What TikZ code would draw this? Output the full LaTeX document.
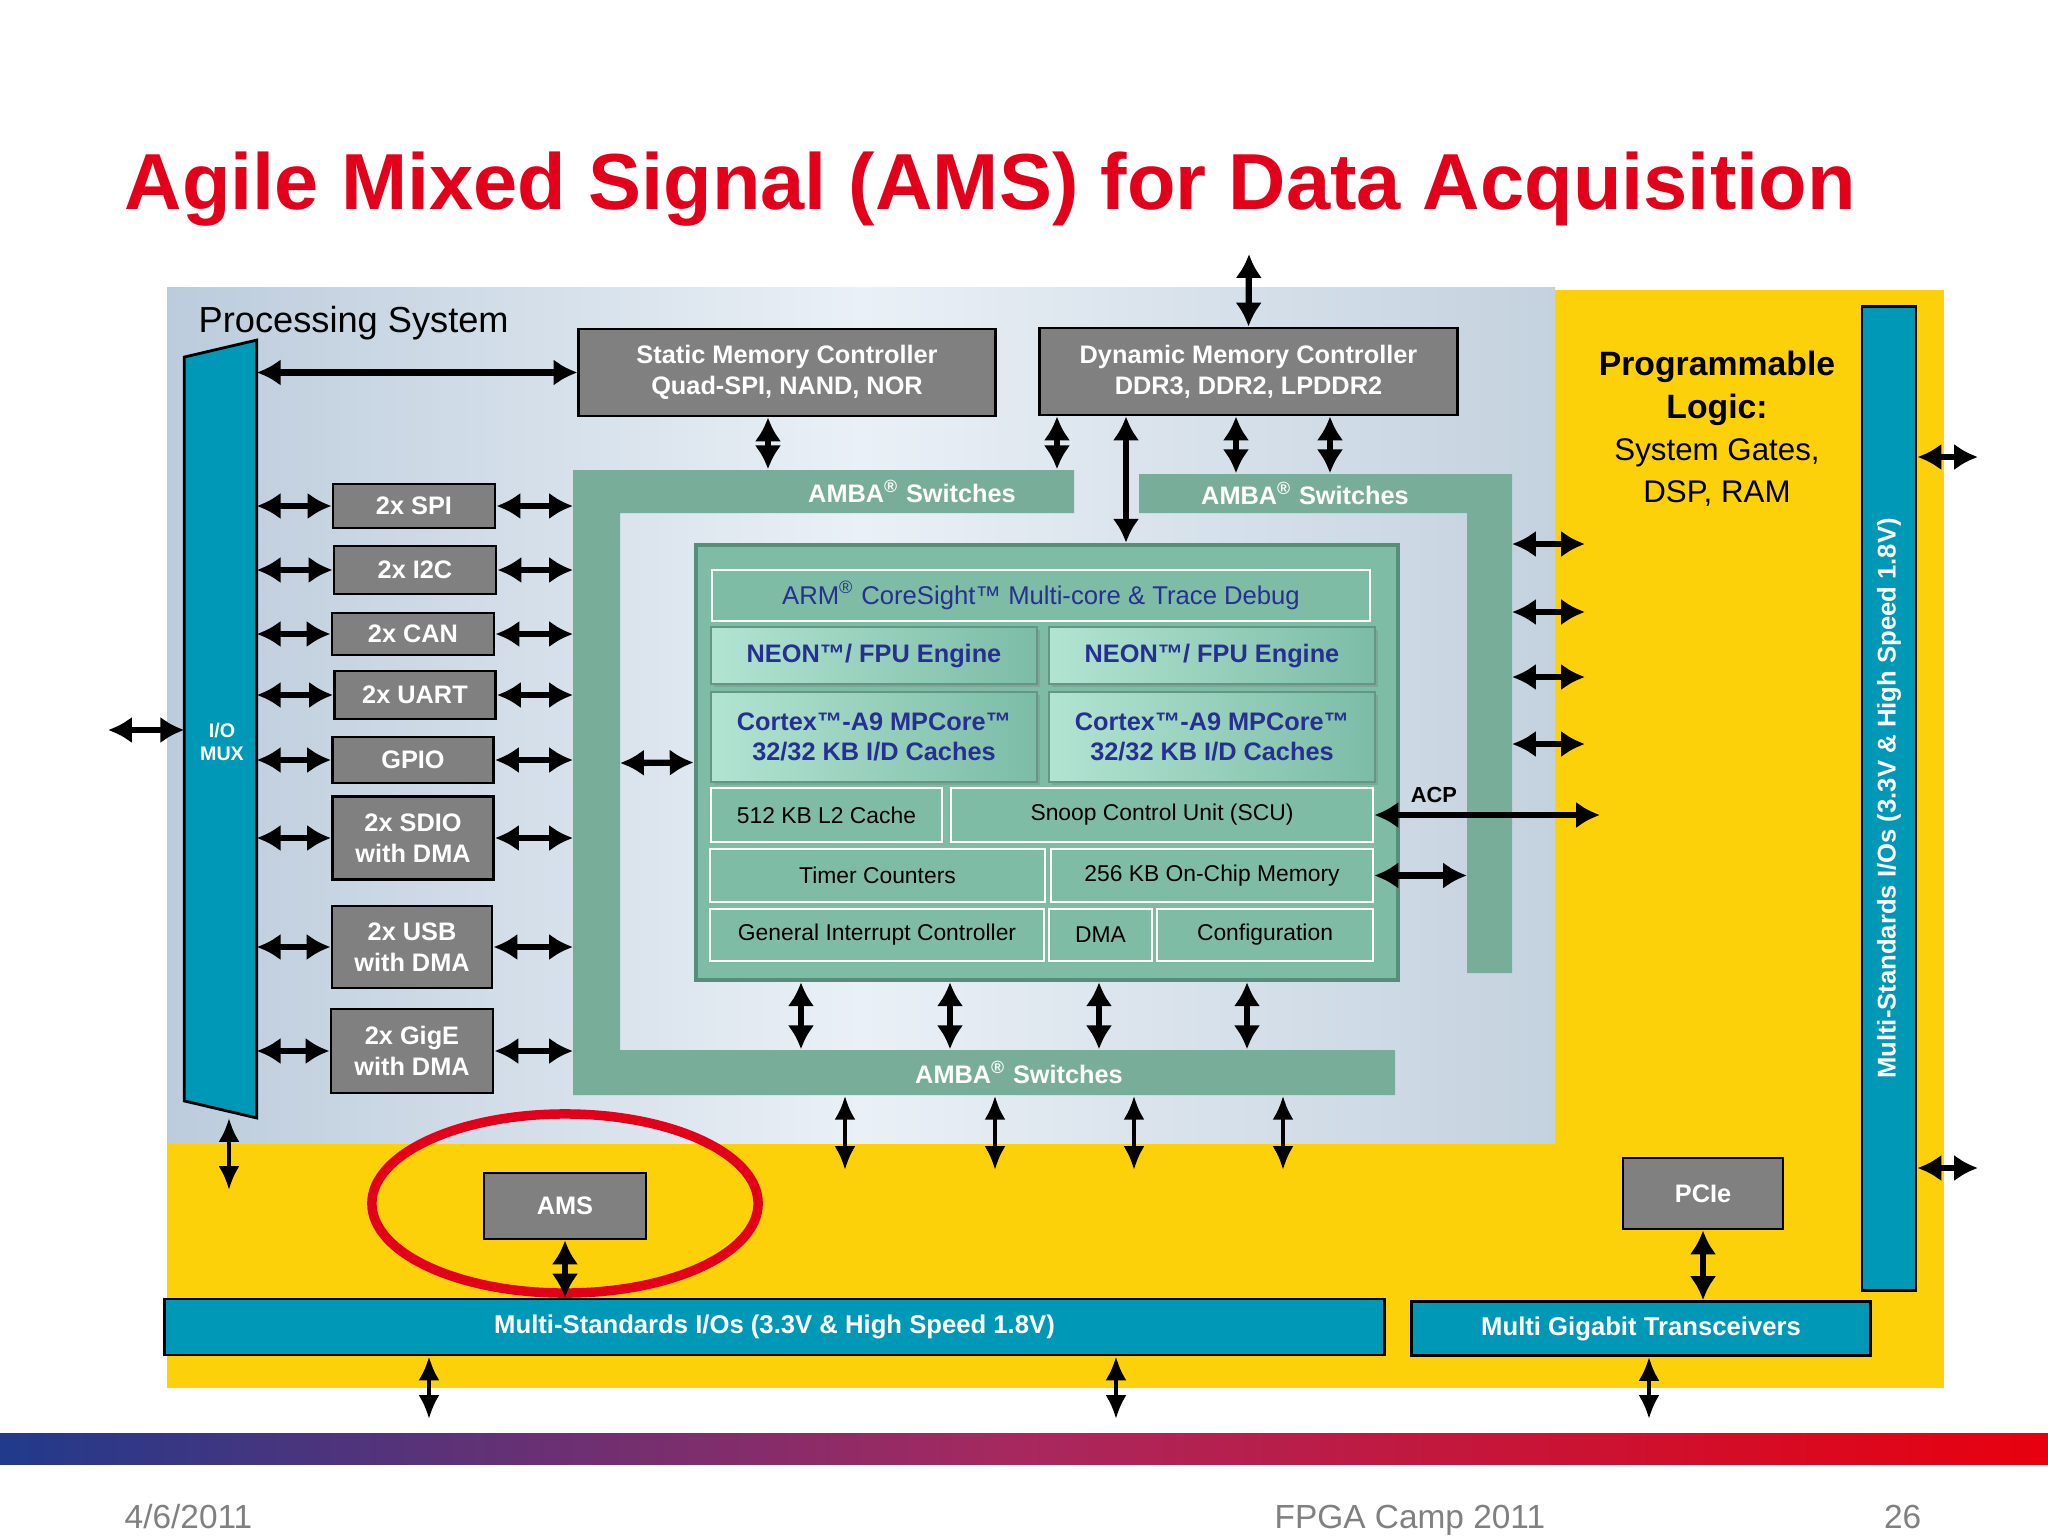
\documentclass[tikz,border=0pt]{standalone}
\usepackage{fontspec}
\setmainfont{Liberation Sans}
\usepackage{tikz}
\usetikzlibrary{calc,positioning,arrows.meta,shadows}
\definecolor{plyellow}{RGB}{253,209,10}
\definecolor{psleft}{RGB}{188,204,220}
\definecolor{psmid}{RGB}{234,240,246}
\definecolor{psright}{RGB}{196,210,223}
\definecolor{iobar}{RGB}{0,152,183}
\definecolor{ambagreen}{RGB}{120,174,153}
\definecolor{coregreen}{RGB}{126,188,166}
\definecolor{coreedge}{RGB}{86,142,122}
\definecolor{enginelight}{RGB}{178,228,210}
\definecolor{enginedark}{RGB}{124,188,166}
\definecolor{boxgray}{RGB}{128,128,128}
\definecolor{armblue}{RGB}{38,48,145}
\definecolor{xred}{RGB}{226,0,26}
\definecolor{footgray}{RGB}{128,128,128}
\definecolor{barblue}{RGB}{33,58,139}
\definecolor{barmid}{RGB}{168,40,94}
\definecolor{barred}{RGB}{232,0,14}
\tikzstyle{slidetitle} = [text=xred, font=\bfseries\fontsize{22.6}{26}\selectfont, inner sep=0pt]
\tikzstyle{footer} = [text=footgray, font=\fontsize{9.5}{11}\selectfont, inner sep=0pt]
\tikzstyle{gbox} = [rectangle, draw=black, line width=0.8pt, fill=boxgray, text=white, font=\bfseries\fontsize{7.2}{8.8}\selectfont, align=center, inner sep=0pt]
\tikzstyle{iobox} = [rectangle, draw=black, line width=0.8pt, fill=iobar, text=white, font=\bfseries\fontsize{7.3}{8.8}\selectfont, inner sep=0pt]
\tikzstyle{corebox} = [rectangle, draw=coreedge, line width=1.2pt, fill=coregreen, inner sep=0pt]
\tikzstyle{cell} = [rectangle, draw=white, line width=0.7pt, text=black, font=\fontsize{6.5}{8}\selectfont, inner sep=0pt]
\tikzstyle{engine} = [rectangle, draw=enginedark!80!black, line width=0.5pt, left color=enginelight, right color=enginedark, drop shadow={shadow xshift=0.8pt, shadow yshift=-0.8pt, opacity=0.35}, text=armblue, font=\bfseries\fontsize{7.2}{8.6}\selectfont, align=center, inner sep=0pt]
\tikzstyle{ambalabel} = [text=white, font=\bfseries\fontsize{7.2}{8.8}\selectfont, inner sep=0pt]
\tikzstyle{line} = [draw, line width=1.8pt, {Latex[length=6.8pt,width=7.6pt]}-{Latex[length=6.8pt,width=7.6pt]}]
\tikzstyle{thinline} = [draw, line width=1.2pt, {Latex[length=6.8pt,width=6pt]}-{Latex[length=6.8pt,width=6pt]}]
\begin{document}
\begin{tikzpicture}[x=0.01cm, y=-0.01cm]
    \useasboundingbox (0,0) rectangle (2048,1536);
    \fill[white] (0,0) rectangle (2048,1536);
    % Regions
    \fill[plyellow] (167,290) rectangle (1944,1388);
    \shade[left color=psleft, right color=psright, middle color=psmid] (167,287) rectangle (1555,1143);
    \fill[ambagreen] (573,470) -- (1074,470) -- (1074,513) -- (620,513) -- (620,1050) -- (1395,1050) -- (1395,1095) -- (573,1095) -- cycle;
    \fill[ambagreen] (1139,474) -- (1512,474) -- (1512,973) -- (1467,973) -- (1467,513) -- (1139,513) -- cycle;
    \shade[left color=barblue, right color=barred, middle color=barmid] (0,1433) rectangle (2048,1464);

    % Texts
    \node [slidetitle, anchor=base west] (title) at (124,209) {Agile Mixed Signal (AMS) for Data Acquisition};
    \node [text=black, font=\fontsize{10.3}{12}\selectfont, inner sep=0pt, anchor=west] (ps) at (198,323) {Processing System};
    \node [align=center, inner sep=0pt] (pl) at (1717,429)
    {
      {\bfseries\fontsize{9.6}{11}\selectfont Programmable}\\
      {\bfseries\fontsize{9.6}{11}\selectfont Logic:}\\
      {\fontsize{8.9}{11}\selectfont System Gates,}\\
      {\fontsize{8.9}{11}\selectfont DSP, RAM}
    };
    \node [footer, anchor=base west] (date) at (124,1528) {4/6/2011};
    \node [footer, anchor=base west] (event) at (1274,1528) {FPGA Camp 2011};
    \node [footer, anchor=base east] (page) at (1922,1528) {26};

    % I/O MUX
    \node [minimum width=0.71cm, minimum height=7.76cm, inner sep=0pt] (mux) at (220.5,729) {};
    \filldraw [fill=iobar, draw=black, line width=0.8pt] ($(mux.north west)+(0,17)$) -- (mux.north east) -- (mux.south east) -- ($(mux.south west)+(0,-17)$) -- cycle;
    \node [text=white, font=\bfseries\fontsize{5.6}{6.6}\selectfont, align=center, inner sep=0pt] (muxtext) at (222,742) {I/O\\MUX};

    % Blocks
    \node [gbox, minimum width=4.16cm, minimum height=0.87cm] (smc) at (787,372.5) {Static Memory Controller\\Quad-SPI, NAND, NOR};
    \node [gbox, minimum width=4.17cm, minimum height=0.87cm] (dmc) at (1248.5,371.5) {Dynamic Memory Controller\\DDR3, DDR2, LPDDR2};
    \node [gbox, minimum width=1.62cm, minimum height=0.44cm] (spi) at (414,506) {2x SPI};
    \node [gbox, minimum width=1.62cm, minimum height=0.48cm] (i2c) at (415,570) {2x I2C};
    \node [gbox, minimum width=1.62cm, minimum height=0.42cm] (can) at (413,634) {2x CAN};
    \node [gbox, minimum width=1.61cm, minimum height=0.48cm] (uart) at (415,695) {2x UART};
    \node [gbox, minimum width=1.61cm, minimum height=0.46cm] (gpio) at (413,760) {GPIO};
    \node [gbox, minimum width=1.61cm, minimum height=0.83cm] (sdio) at (413,838) {2x SDIO\\with DMA};
    \node [gbox, minimum width=1.60cm, minimum height=0.82cm] (usb) at (412,947) {2x USB\\with DMA};
    \node [gbox, minimum width=1.62cm, minimum height=0.84cm] (gige) at (412,1051) {2x GigE\\with DMA};
    \node [gbox, minimum width=1.62cm, minimum height=0.66cm] (ams) at (565,1206) {AMS};
    \node [gbox, minimum width=1.60cm, minimum height=0.71cm] (pcie) at (1703,1193.5) {PCIe};

    % AMBA switches
    \node [ambalabel, minimum height=0.43cm] (ambaa) at (912,491.5) {AMBA\textsuperscript{®} Switches};
    \node [ambalabel, minimum height=0.39cm] (ambab) at (1305,493.5) {AMBA\textsuperscript{®} Switches};
    \node [ambalabel, minimum height=0.45cm] (ambac) at (1019,1072.5) {AMBA\textsuperscript{®} Switches};

    % Cortex-A9 cluster
    \node [corebox, minimum width=7.02cm, minimum height=4.35cm] (core) at (1047,762.5) {};
    \node [cell, minimum width=6.58cm, minimum height=0.51cm, text=armblue, font=\fontsize{7.3}{8.8}\selectfont] (debug) at (1041,595.5) {ARM\textsuperscript{®} CoreSight™ Multi-core \& Trace Debug};
    \node [engine, minimum width=3.26cm, minimum height=0.57cm] (neona) at (874,655.5) {NEON™/ FPU Engine};
    \node [engine, minimum width=3.26cm, minimum height=0.57cm] (neonb) at (1212,655.5) {NEON™/ FPU Engine};
    \node [engine, minimum width=3.26cm, minimum height=0.90cm] (cpua) at (874,737) {Cortex™-A9 MPCore™\\32/32 KB I/D Caches};
    \node [engine, minimum width=3.26cm, minimum height=0.90cm] (cpub) at (1212,737) {Cortex™-A9 MPCore™\\32/32 KB I/D Caches};
    \node [cell, minimum width=2.31cm, minimum height=0.54cm] (l2) at (826.5,815) {512 KB L2 Cache};
    \node [cell, minimum width=4.22cm, minimum height=0.54cm] (scu) at (1162,815) {Snoop Control Unit (SCU)};
    \node [cell, minimum width=3.35cm, minimum height=0.53cm] (timer) at (877.5,875.5) {Timer Counters};
    \node [cell, minimum width=3.22cm, minimum height=0.53cm] (ocm) at (1212,875.5) {256 KB On-Chip Memory};
    \node [cell, minimum width=3.34cm, minimum height=0.52cm] (gic) at (877,935) {General Interrupt Controller};
    \node [cell, minimum width=1.03cm, minimum height=0.52cm] (dma) at (1100.5,935) {DMA};
    \node [cell, minimum width=2.16cm, minimum height=0.52cm] (cfg) at (1265,935) {Configuration};

    % Multi-standard I/O
    \node [iobox, minimum width=12.19cm, minimum height=0.56cm] (iobot) at (774.5,1327) {Multi-Standards I/Os (3.3V \& High Speed 1.8V)};
    \node [iobox, minimum width=4.58cm, minimum height=0.54cm] (mgt) at (1641,1328.5) {Multi Gigabit Transceivers};
    \node [iobox, rotate=90, minimum width=9.83cm, minimum height=0.54cm] (ioright) at (1889,798.5) {Multi-Standards I/Os (3.3V \& High Speed 1.8V)};

    % Highlight
    \draw [xred, line width=2.7pt] (565,1203.5) ellipse [x radius=1.93cm, y radius=0.895cm];

    % Anchors
    \coordinate (ambaleft) at (573,0);
    \coordinate (ambainner) at (620,763);
    \coordinate (ambarin) at (1467,0);
    \coordinate (ambarout) at (1512,0);
    \coordinate (ioin) at (108,730);
    \coordinate (muxdown) at (229,1190);
    \coordinate (smcdown) at (768,0);
    \coordinate (dmca) at (1057,0);
    \coordinate (dmcb) at (1126,0);
    \coordinate (dmcc) at (1236,0);
    \coordinate (dmcd) at (1330,0);
    \coordinate (dmcup) at (1249,254);
    \coordinate (acpend) at (1600,815);
    \coordinate (plpa) at (1585,544);
    \coordinate (plpb) at (1585,612);
    \coordinate (plpc) at (1585,677);
    \coordinate (plpd) at (1585,744);
    \coordinate (corea) at (801,0);
    \coordinate (coreb) at (950,0);
    \coordinate (corec) at (1099,0);
    \coordinate (cored) at (1247,0);
    \coordinate (busa) at (845,1170);
    \coordinate (busb) at (995,1170);
    \coordinate (busc) at (1134,1170);
    \coordinate (busd) at (1283,1170);
    \coordinate (pinsa) at (429,1419);
    \coordinate (pinsb) at (1116,1419);
    \coordinate (pinsc) at (1649,1419);
    \coordinate (plouta) at (1978,457);
    \coordinate (ploutb) at (1978,1168);

    % Lines
    \path [line] (ioin) -- (ioin -| mux.west);
    \path [line] (mux.east |- smc.west) -- (smc.west);
    \path [line] (mux.east |- spi) -- (spi.west);
    \path [line] (mux.east |- i2c) -- (i2c.west);
    \path [line] (mux.east |- can) -- (can.west);
    \path [line] (mux.east |- uart) -- (uart.west);
    \path [line] (mux.east |- gpio) -- (gpio.west);
    \path [line] (mux.east |- sdio) -- (sdio.west);
    \path [line] (mux.east |- usb) -- (usb.west);
    \path [line] (mux.east |- gige) -- (gige.west);
    \path [line] (spi.east) -- (spi.east -| ambaleft);
    \path [line] (i2c.east) -- (i2c.east -| ambaleft);
    \path [line] (can.east) -- (can.east -| ambaleft);
    \path [line] (uart.east) -- (uart.east -| ambaleft);
    \path [line] (gpio.east) -- (gpio.east -| ambaleft);
    \path [line] (sdio.east) -- (sdio.east -| ambaleft);
    \path [line] (usb.east) -- (usb.east -| ambaleft);
    \path [line] (gige.east) -- (gige.east -| ambaleft);
    \path [thinline] (muxdown |- mux.south) -- (muxdown);
    \path [line] (smc.south -| smcdown) -- (ambaa.north -| smcdown);
    \path [line] (dmcup) -- (dmc.north);
    \path [line] (dmc.south -| dmca) -- (ambaa.north -| dmca);
    \path [line] (dmc.south -| dmcb) -- (core.north -| dmcb);
    \path [line] (dmc.south -| dmcc) -- (ambab.north -| dmcc);
    \path [line] (dmc.south -| dmcd) -- (ambab.north -| dmcd);
    \path [line] (ambainner) -- (core.west);
    \path [line] (scu.east) -- (acpend);
    \path [line] (ocm.east) -- (ocm.east -| ambarin);
    \path [line] (plpa -| ambarout) -- (plpa);
    \path [line] (plpb -| ambarout) -- (plpb);
    \path [line] (plpc -| ambarout) -- (plpc);
    \path [line] (plpd -| ambarout) -- (plpd);
    \path [line] (core.south -| corea) -- (ambac.north -| corea);
    \path [line] (core.south -| coreb) -- (ambac.north -| coreb);
    \path [line] (core.south -| corec) -- (ambac.north -| corec);
    \path [line] (core.south -| cored) -- (ambac.north -| cored);
    \path [thinline] (ambac.south -| busa) -- (busa);
    \path [thinline] (ambac.south -| busb) -- (busb);
    \path [thinline] (ambac.south -| busc) -- (busc);
    \path [thinline] (ambac.south -| busd) -- (busd);
    \path [line] (ams.south) -- (ams.south |- iobot.north);
    \path [line] (pcie.south) -- (pcie.south |- mgt.north);
    \path [thinline] (iobot.south -| pinsa) -- (pinsa);
    \path [thinline] (iobot.south -| pinsb) -- (pinsb);
    \path [thinline] (mgt.south -| pinsc) -- (pinsc);
    \path [line] (plouta -| ioright.south) -- (plouta);
    \path [line] (ploutb -| ioright.south) -- (ploutb);
    \node [font=\bfseries\fontsize{6.2}{7}\selectfont, inner sep=0pt] (acp) at (1434,795) {ACP};
\end{tikzpicture}
\end{document}
